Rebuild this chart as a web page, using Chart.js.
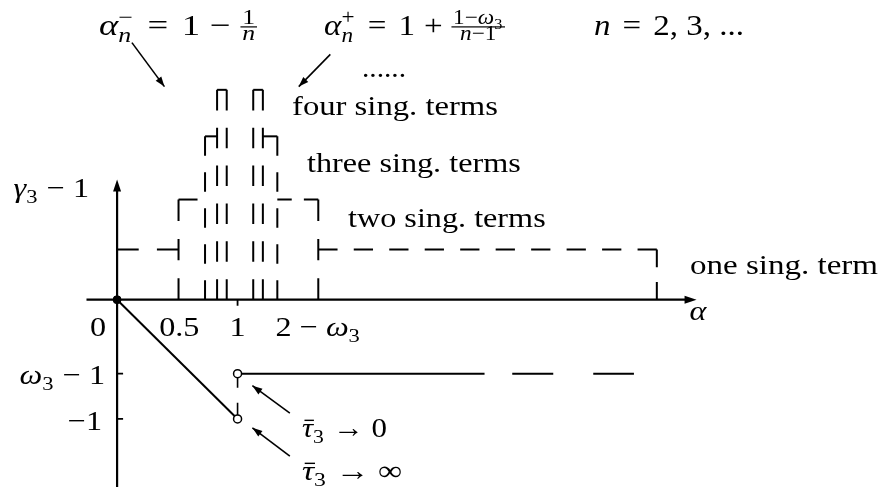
<!DOCTYPE html>
<html>
<head>
<meta charset="utf-8">
<script src="https://cdn.jsdelivr.net/npm/chart.js"></script>
<style>
  html, body { margin: 0; padding: 0; background: #fff; }
  #wrap { width: 881px; height: 487px; position: relative; }
</style>
</head>
<body>
<div id="wrap"><canvas id="chart"></canvas></div>
<script>
// plateau heights (gamma3 - 1) for one, two, three, four singular terms
const levels = [0.42, 0.84, 1.37, 1.76];
// alpha_n^- edges (n = 2..5) and alpha_n^+ edges (n = 2..5)
const alphaMinus = [0.51, 0.73, 0.83, 0.91];
const alphaPlus = [1.67, 1.33, 1.21, 1.13];
// end of the one-term plateau
const oneTermEnd = 4.48;

// lower branch
const omega3m1 = -0.62;
const dropLine = [[0, 0], [1, -1]];
const plateauSolid = [1, 3.05];
const plateauDashed = [3.28, 4.29];

// axis extents
const xAxisRange = [-0.254, 4.81];
const yAxisRange = [-1.6, 1.008];

// tick positions
const xTicks = [0.5, 1, 1.67];
const yTicks = [omega3m1, -1];

const pt = (x, y) => ({ x: x, y: y });

// dashes stretched so that a straight piece starts and ends with a dash
function fittedDash(c) {
  const xs = c.chart.scales.x, ys = c.chart.scales.y;
  const d = c.dataset.data;
  const L = Math.hypot(
    xs.getPixelForValue(d[1].x) - xs.getPixelForValue(d[0].x),
    ys.getPixelForValue(d[1].y) - ys.getPixelForValue(d[0].y));
  const dash = 19, gap = 16;
  const n = Math.round((L + gap) / (dash + gap));
  if (n < 2) return L > dash * 1.2 ? [dash, L] : [];
  const s = L / (n * dash + (n - 1) * gap);
  return [dash * s, gap * s];
}

function line(data, dash, width) {
  return {
    data: data,
    showLine: true,
    borderColor: '#000',
    borderWidth: width || 2,
    borderDash: dash || [],
    borderCapStyle: 'butt',
    pointRadius: 0,
    fill: false,
    clip: false,
    order: 2
  };
}

const datasets = [];

// every straight piece of a dashed path gets its own dataset
function dashedPath(points) {
  for (let i = 1; i < points.length; i++) {
    datasets.push(line([points[i - 1], points[i]], fittedDash, 2));
  }
}

// axes
datasets.push(line([pt(xAxisRange[0], 0), pt(xAxisRange[1] - 0.06, 0)], [], 2.2));
datasets.push(line([pt(0, yAxisRange[0]), pt(0, yAxisRange[1] - 0.06)], [], 2.2));

// one singular term
dashedPath([pt(0, levels[0]), pt(alphaMinus[0], levels[0])]);
dashedPath([pt(alphaPlus[0], levels[0]), pt(oneTermEnd, levels[0])]);
dashedPath([pt(oneTermEnd, levels[0]), pt(oneTermEnd, 0)]);

// stairs on both sides of alpha = 1
[alphaMinus, alphaPlus].forEach(function (edges) {
  for (let k = 0; k < 3; k++) {
    dashedPath([pt(edges[k], 0), pt(edges[k], levels[k + 1])]);
    dashedPath([pt(edges[k], levels[k + 1]), pt(edges[k + 1], levels[k + 1])]);
  }
  dashedPath([pt(edges[3], 0), pt(edges[3], levels[3])]);
});

// lower branch
datasets.push(line(dropLine.map(p => pt(p[0], p[1])), [], 2));
datasets.push(line([pt(1, omega3m1), pt(1, -1)], [14, 15], 1.6));
datasets.push(line([pt(plateauSolid[0], omega3m1), pt(plateauSolid[1], omega3m1)], [], 2));
datasets.push(line([pt(plateauDashed[0], omega3m1), pt(plateauDashed[1], omega3m1)], [41, 40], 2));

// origin dot and the two limit circles
datasets.push({
  data: [pt(0, 0)],
  pointRadius: 4, pointBackgroundColor: '#000', pointBorderColor: '#000',
  showLine: false, clip: false, order: 0
});
datasets.push({
  data: [pt(1, omega3m1), pt(1, -1)],
  pointRadius: 4, pointBackgroundColor: '#fff', pointBorderColor: '#000', pointBorderWidth: 1.5,
  showLine: false, clip: false, order: 0
});

// ---- text helpers ----
const FONT = '"Liberation Serif", "Times New Roman", serif';
const SX = 1.15;

function setFont(ctx, size, it) {
  ctx.font = (it ? 'italic ' : '') + size + 'px ' + FONT;
}

// draws a list of runs, returns its width (unscaled units)
function runs(ctx, list, x, y, size, draw) {
  let cx = x;
  list.forEach(function (r) {
    if (typeof r === 'string' || r.i !== undefined) {
      const t = typeof r === 'string' ? r : r.i;
      setFont(ctx, size, typeof r !== 'string');
      const w = ctx.measureText(t).width;
      if (draw) ctx.fillText(t, cx, y);
      if (r.bar && draw) ctx.fillRect(cx + size * 0.08, y - size * 0.62, w * 0.85, Math.max(1.2, size * 0.05));
      cx += w;
    } else if (r.sub || r.sup) {
      const s = size * 0.7;
      let w = 0;
      if (r.sup) w = Math.max(w, runs(ctx, r.sup, cx, y - size * 0.36, s, draw));
      if (r.sub) w = Math.max(w, runs(ctx, r.sub, cx, y + size * 0.22, s, draw));
      cx += w + 1;
    } else if (r.frac) {
      const s = size * 0.7;
      const wn = runs(ctx, r.frac[0], 0, 0, s, false);
      const wd = runs(ctx, r.frac[1], 0, 0, s, false);
      const w = Math.max(wn, wd) + 3;
      const bar = y - size * 0.27;
      runs(ctx, r.frac[0], cx + (w - wn) / 2, bar - size * 0.1, s, draw);
      runs(ctx, r.frac[1], cx + (w - wd) / 2, bar + size * 0.45, s, draw);
      if (draw) ctx.fillRect(cx, bar - 0.6, w, 1.2);
      cx += w;
    } else if (r.gap) {
      cx += r.gap;
    }
  });
  return cx - x;
}

// width, when given, stretches the run to that many pixels
function label(ctx, list, x, y, size, align, width) {
  const natural = runs(ctx, list, 0, 0, size, false);
  const sx = width ? width / natural : SX;
  const w = natural * sx;
  let x0 = x;
  if (align === 'center') x0 = x - w / 2;
  if (align === 'right') x0 = x - w;
  ctx.save();
  ctx.translate(x0, y);
  ctx.scale(sx, 1);
  ctx.fillStyle = '#000';
  ctx.textBaseline = 'alphabetic';
  ctx.textAlign = 'left';
  runs(ctx, list, 0, 0, size, true);
  ctx.restore();
}

function arrowHead(ctx, x0, y0, x1, y1, len, half) {
  const a = Math.atan2(y1 - y0, x1 - x0);
  ctx.beginPath();
  ctx.moveTo(x1, y1);
  ctx.lineTo(x1 - len * Math.cos(a) + half * Math.sin(a), y1 - len * Math.sin(a) - half * Math.cos(a));
  ctx.lineTo(x1 - len * Math.cos(a) - half * Math.sin(a), y1 - len * Math.sin(a) + half * Math.cos(a));
  ctx.closePath();
  ctx.fill();
}

// annotation arrows, in data units: [from, to]
const pointers = [
  [[0.123, 2.156], [0.393, 1.787]],
  [[1.770, 2.057], [1.508, 1.787]],
  [[1.434, -0.951], [1.123, -0.721]],
  [[1.434, -1.311], [1.123, -1.074]]
];

const eq = [{ gap: 11 }, '=', { gap: 11 }];
const minus = [{ gap: 8 }, '−', { gap: 8 }];
const plus = [{ gap: 8 }, '+', { gap: 8 }];

const decorations = {
  id: 'decorations',
  beforeDraw(chart) {
    const ctx = chart.ctx;
    ctx.save();
    ctx.fillStyle = '#fff';
    ctx.fillRect(0, 0, chart.width, chart.height);
    ctx.restore();
  },
  afterDatasetsDraw(chart) {
    const ctx = chart.ctx;
    const xs = chart.scales.x, ys = chart.scales.y;
    const px = v => xs.getPixelForValue(v);
    const py = v => ys.getPixelForValue(v);
    ctx.save();
    ctx.fillStyle = '#000';
    ctx.strokeStyle = '#000';

    // axis arrowheads
    arrowHead(ctx, px(0), py(0), px(xAxisRange[1]), py(0), 12, 4);
    arrowHead(ctx, px(0), py(0), px(0), py(yAxisRange[1]), 12, 4);

    // tick marks
    ctx.lineWidth = 1.8;
    ctx.beginPath();
    ctx.moveTo(px(1), py(0));
    ctx.lineTo(px(1), py(0) + 6);
    yTicks.forEach(function (v) {
      ctx.moveTo(px(0), py(v));
      ctx.lineTo(px(0) + 6, py(v));
    });
    ctx.stroke();

    // pointers
    ctx.lineWidth = 1.6;
    pointers.forEach(function (p) {
      const x0 = px(p[0][0]), y0 = py(p[0][1]), x1 = px(p[1][0]), y1 = py(p[1][1]);
      ctx.beginPath();
      ctx.moveTo(x0, y0);
      ctx.lineTo(x1, y1);
      ctx.stroke();
      arrowHead(ctx, x0, y0, x1, y1, 10, 3.5);
    });

    const S = 28;
    const by = py(0) + 36;
    // x tick labels
    label(ctx, ['0'], px(0) - 19, by, S, 'center');
    label(ctx, ['0.5'], px(xTicks[0]) + 2, by, S, 'center');
    label(ctx, ['1'], px(xTicks[1]), by, S, 'center');
    label(ctx, ['2 − ', { i: 'ω' }, { sub: ['3'] }], px(xTicks[2]), by, S, 'center');
    label(ctx, [{ i: 'α' }], 698, 320, S, 'center');

    // y labels
    label(ctx, [{ i: 'γ' }, { sub: ['3'] }, ' − 1'], 89, 197, S, 'right');
    label(ctx, [{ i: 'ω' }, { sub: ['3'] }, ' − 1'], 105, py(yTicks[0]) + 10, S, 'right');
    label(ctx, ['−1'], 102, py(yTicks[1]) + 11, S, 'right');

    // formulas on top
    const F = 30;
    label(ctx, [{ i: 'α' }, { sub: [{ i: 'n' }], sup: ['−'] }].concat(eq, ['1'], minus,
      [{ frac: [['1'], [{ i: 'n' }]] }]), 99, 35, F, 'left', 158);
    label(ctx, [{ i: 'α' }, { sub: [{ i: 'n' }], sup: ['+'] }].concat(eq, ['1'], plus,
      [{ frac: [['1−', { i: 'ω' }, { sub: ['3'] }], [{ i: 'n' }, '−1']] }]), 324, 35, F, 'left', 181);
    label(ctx, [{ i: 'n' }].concat(eq, ['2, 3, ...']), 594, 35, F, 'left', 150);
    label(ctx, ['......'], 362, 77, S, 'left', 44);

    // region names
    label(ctx, ['four sing. terms'], 292, 115, S, 'left', 206);
    label(ctx, ['three sing. terms'], 307, 172, S, 'left');
    label(ctx, ['two sing. terms'], 348, 227, S, 'left');
    label(ctx, ['one sing. term'], 690, 274, S, 'left', 188);

    // limits of tau3
    label(ctx, [{ i: 'τ', bar: true }, { sub: ['3'] }, ' → 0'], 302, 437, S, 'left', 85);
    label(ctx, [{ i: 'τ', bar: true }, { sub: ['3'] }, ' → ∞'], 302, 480, S, 'left', 100);

    ctx.restore();
  }
};

// 122 px per unit on both axes, origin at (113, 301)
new Chart(document.getElementById('chart'), {
  type: 'scatter',
  data: { datasets: datasets },
  options: {
    responsive: true,
    maintainAspectRatio: false,
    animation: false,
    events: [],
    layout: { padding: 0 },
    plugins: { legend: { display: false }, tooltip: { enabled: false } },
    scales: {
      x: { type: 'linear', display: false, min: -113 / 122, max: (881 - 113) / 122 },
      y: { type: 'linear', display: false, min: -(487 - 301) / 122, max: 301 / 122 }
    }
  },
  plugins: [decorations]
});
</script>
</body>
</html>
